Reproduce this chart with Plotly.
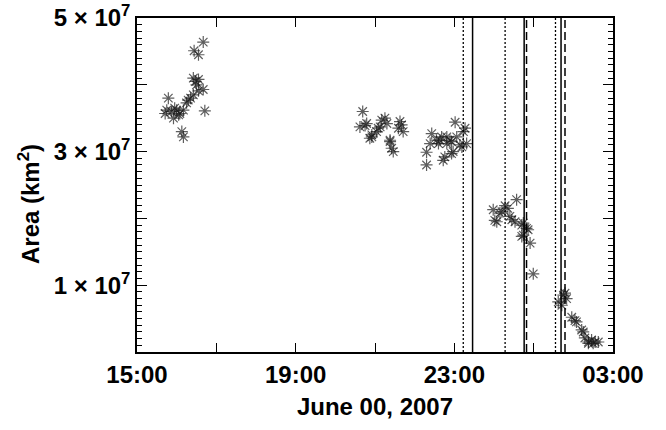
import plotly.graph_objects as go

# time in hours since 00:00 June 00 (values > 24 are the next day)
hours = [
    16.67, 16.44, 16.55, 16.42, 16.55, 16.48, 16.67, 16.55, 16.42, 16.29, 16.25, 15.79,
    15.75, 15.87, 16.00, 16.17, 15.92, 16.08, 16.71, 16.13, 16.17, 15.71, 16.35, 15.95, 16.05, 16.50,
    20.69, 20.75, 20.62, 20.79, 20.92, 20.87, 20.92, 21.17, 21.13, 21.04, 21.08, 21.25,
    21.30, 21.38, 21.38, 21.42, 21.46, 21.63, 21.59, 21.71, 21.67,
    22.30, 22.30, 22.43, 22.39, 22.55, 22.64, 22.68, 22.60, 22.76, 22.72, 22.81, 22.81,
    22.93, 22.93, 22.89, 23.02, 23.06, 23.23, 23.19, 23.14, 23.27, 23.31, 22.97,
    24.57, 24.28, 23.98, 24.15, 24.07, 24.02, 24.40, 24.45, 24.53, 24.70, 24.74, 24.82,
    24.86, 24.74, 24.70, 24.91, 24.99, 24.20, 24.35,
    25.79, 25.62, 25.71, 25.83, 25.96, 26.04, 26.08, 26.21, 26.25, 26.29, 26.38, 26.46,
    26.55, 26.63, 26.38, 26.50, 25.75,
]
area_e7 = [
    4.64, 4.51, 4.45, 4.10, 4.08, 4.05, 3.93, 3.91, 3.85, 3.77, 3.73, 3.80,
    3.62, 3.60, 3.62, 3.62, 3.50, 3.57, 3.61, 3.30, 3.22, 3.57, 3.80, 3.65, 3.55, 4.00,
    3.60, 3.39, 3.37, 3.42, 3.25, 3.20, 3.22, 3.47, 3.37, 3.30, 3.35, 3.50,
    3.42, 3.15, 3.17, 3.05, 3.00, 3.45, 3.35, 3.30, 3.40,
    2.99, 2.80, 3.27, 3.12, 3.17, 3.17, 3.22, 3.12, 2.92, 2.87, 3.22, 3.12,
    2.97, 3.15, 3.17, 3.44, 3.22, 3.30, 3.07, 3.10, 3.35, 3.12, 3.00,
    2.28, 2.19, 2.13, 2.08, 1.95, 1.97, 2.03, 1.98, 1.95, 1.90, 1.93, 1.85,
    1.83, 1.75, 1.73, 1.63, 1.17, 2.10, 2.15,
    0.88, 0.75, 0.70, 0.80, 0.52, 0.47, 0.45, 0.33, 0.30, 0.21, 0.15, 0.18,
    0.15, 0.15, 0.13, 0.13, 0.85,
]
area = [v * 1e7 for v in area_e7]

# vertical event lines
dotted_lines = [23.225, 24.28, 25.55]
solid_lines = [23.46, 24.76, 25.69]
dashed_lines = [24.82, 25.79]

x_tickvals = [15, 17, 19, 21, 23, 25, 27]
x_ticktext = ["15:00", "", "19:00", "", "23:00", "", "03:00"]
y_tickvals = [0, 1e7, 2e7, 3e7, 4e7, 5e7]
y_ticktext = ["", "1 × 10<sup>7</sup>", "", "3 × 10<sup>7</sup>", "", "5 × 10<sup>7</sup>"]

fig = go.Figure()
fig.add_trace(go.Scatter(
    x=hours, y=area, mode="markers",
    marker=dict(symbol="asterisk-open", size=10, color="rgba(25,25,25,0.7)",
                line=dict(color="rgba(25,25,25,0.7)", width=1.2)),
    showlegend=False, hoverinfo="skip",
))

shapes = []
for xv in dotted_lines:
    shapes.append(dict(type="line", xref="x", yref="paper", x0=xv, x1=xv, y0=0, y1=1,
                       line=dict(color="black", width=1.3, dash="2px,2px")))
for xv in solid_lines:
    shapes.append(dict(type="line", xref="x", yref="paper", x0=xv, x1=xv, y0=0, y1=1,
                       line=dict(color="black", width=1.5)))
for xv in dashed_lines:
    shapes.append(dict(type="line", xref="x", yref="paper", x0=xv, x1=xv, y0=0, y1=1,
                       line=dict(color="black", width=1.5, dash="8px,4px")))

font_family = "Liberation Sans, Arial, sans-serif"
fs = 24
plot_l, plot_w, plot_t, plot_h = 137, 476, 18, 334
fig.update_layout(
    width=666, height=430,
    margin=dict(l=plot_l, r=666 - plot_l - plot_w, t=plot_t, b=430 - plot_t - plot_h),
    paper_bgcolor="white", plot_bgcolor="white",
    shapes=shapes,
    font=dict(family=font_family, size=fs, color="black"),
    xaxis=dict(
        range=[15, 27], tickmode="array", tickvals=x_tickvals, ticktext=x_ticktext,
        ticks="inside", ticklen=9, tickwidth=1.2, tickcolor="black",
        showline=True, linecolor="black", linewidth=1.5, mirror="ticks",
        showgrid=False, zeroline=False, automargin="bottom",
        tickfont=dict(family=font_family, size=fs, weight="bold"),
        title=dict(text="<b>June 00, 2007</b>", standoff=12,
                   font=dict(family=font_family, size=fs)),
    ),
    yaxis=dict(
        range=[0, 5e7], tickmode="array", tickvals=y_tickvals, ticktext=y_ticktext,
        ticks="inside", ticklen=10, tickwidth=1.2, tickcolor="black",
        minor=dict(dtick=1e6, ticks="inside", ticklen=5, tickwidth=1, tickcolor="black"),
        showline=True, linecolor="black", linewidth=1.5, mirror="ticks",
        showgrid=False, zeroline=False, automargin=False,
        tickfont=dict(family=font_family, size=fs, weight="bold"),
    ),
    annotations=[dict(
        text="<b>Area (km<sup>2</sup>)</b>", textangle=-90,
        xref="paper", yref="paper",
        x=(29 - plot_l) / plot_w, y=1 - (204 - plot_t) / plot_h,
        xanchor="center", yanchor="middle", showarrow=False,
        font=dict(family=font_family, size=fs, color="black"),
    )],
)

fig.write_html("out.html")
